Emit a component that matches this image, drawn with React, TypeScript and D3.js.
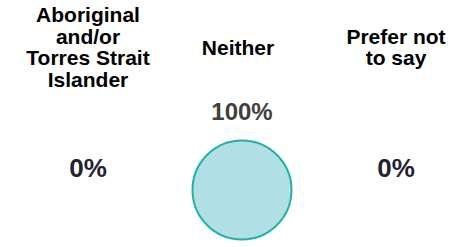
import React from 'react';
import * as d3 from 'd3';

const categories = ['Aboriginal and/or Torres Strait Islander', 'Neither', 'Prefer not to say'];
const labelLines = [
  ['Aboriginal', 'and/or', 'Torres Strait', 'Islander'],
  ['Neither'],
  ['Prefer not', 'to say'],
];
const shares = [0, 1, 0];

const W = 464;
const H = 247;
const LINE = 21.5;

const App: React.FC = () => {
  const x = d3.scalePoint<string>().domain(categories).range([88, 396]);
  const r = d3.scaleSqrt().domain([0, 1]).range([0, 49.5]);
  const cy = 190;
  const labelMid = 54.5;
  const fmt = d3.format('.0%');

  return (
    <svg width={W} height={H} style={{ position: 'absolute', left: 0, top: 0 }}
      fontFamily="'Liberation Sans', Arial, sans-serif" fontWeight="bold">
      {categories.map((c, i) => {
        const cx = x(c) as number;
        const lines = labelLines[i];
        const first = labelMid - ((lines.length - 1) * LINE) / 2;
        const rad = r(shares[i]);
        return (
          <g key={c}>
            <text textAnchor="middle" fontSize={21} fill="#000">
              {lines.map((l, j) => (
                <tspan key={j} x={i === 1 ? cx - 4 : cx} y={first + j * LINE}>{l}</tspan>
              ))}
            </text>
            {rad > 0 && (
              <circle cx={cx} cy={cy} r={rad} fill="#b0e0e6" stroke="#20b2aa" strokeWidth={2} />
            )}
            {rad > 0 ? (
              <text x={cx} y={cy - rad - 21} textAnchor="middle" fontSize={24} fill="#404040">
                {fmt(shares[i])}
              </text>
            ) : (
              <text x={cx} y={cy - 13} textAnchor="middle" fontSize={26} fill="#222230">
                {fmt(shares[i])}
              </text>
            )}
          </g>
        );
      })}
    </svg>
  );
};

export default App;
